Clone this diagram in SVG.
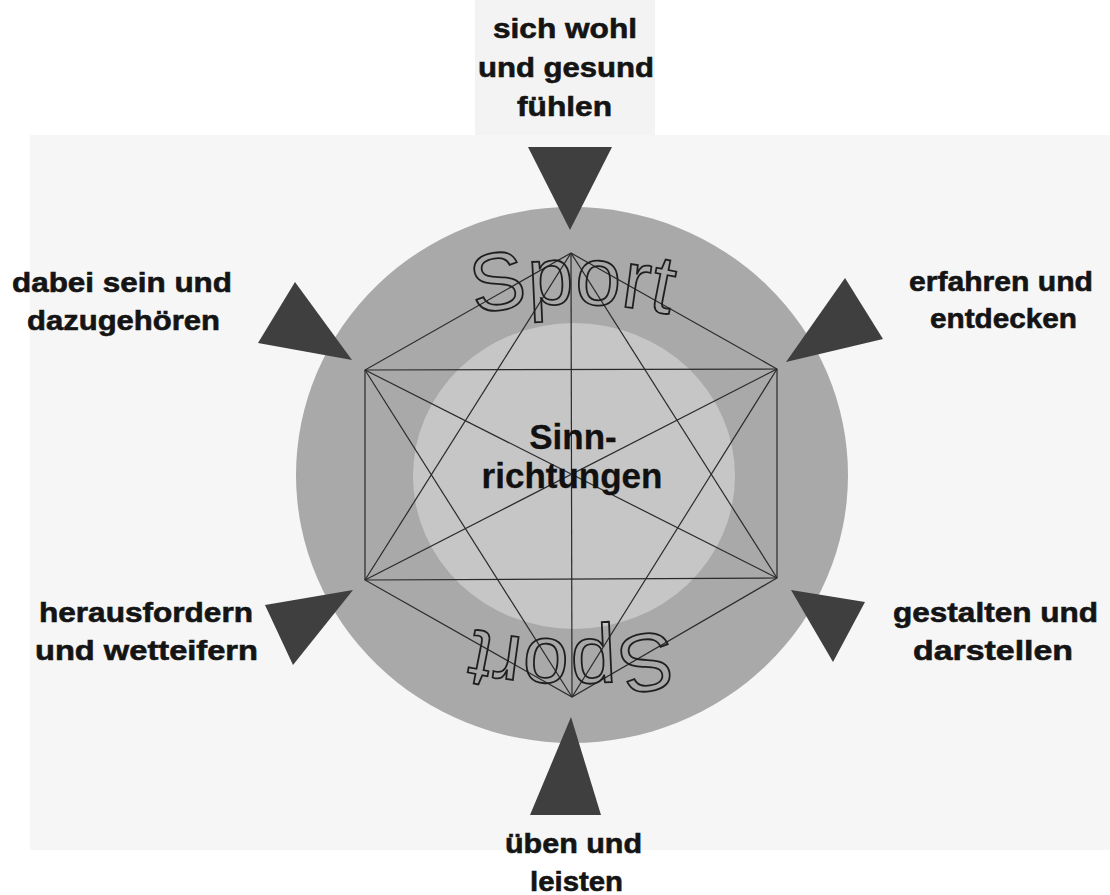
<svg xmlns="http://www.w3.org/2000/svg" xmlns:xlink="http://www.w3.org/1999/xlink" width="1110" height="895" viewBox="0 0 1110 895">
  <style>
    .lbl { font-family: "Liberation Sans", Arial, sans-serif; font-weight: bold; font-size: 28px; fill: #141414; stroke: #141414; stroke-width: 0.6; }
    .ctr { font-family: "Liberation Sans", Arial, sans-serif; font-weight: bold; font-size: 35px; fill: #111; stroke: #111; stroke-width: 0.3; text-anchor: middle; }
    .sport { font-family: "Liberation Sans", Arial, sans-serif; font-size: 82px; fill: none; stroke: #1e1e1e; stroke-width: 1.8; }
    .tri { fill: #3f3f3f; }
    .edge { stroke: #2a2a2a; stroke-width: 1.2; fill: none; }
  </style>
  <defs>
    <path id="arcTop" d="M 122 754 A 450 450 0 0 1 1022 754"/>
  </defs>
  <rect width="1110" height="895" fill="#ffffff"/>
  <rect x="30" y="135" width="1080" height="715" fill="#f6f6f6"/>
  <rect x="475" y="0" width="180" height="135" fill="#f3f3f3"/>

  <g id="sport-circle">
    <ellipse cx="572" cy="475" rx="276" ry="268" fill="#a9a9a9"/>
    <ellipse cx="574" cy="476" rx="161" ry="153" fill="#c6c6c6"/>
  </g>

  <g id="star">
    <polyline class="edge" points="571,253 365,370 365,580 572,697 777,578 777,369 571,253"/>
    <line class="edge" x1="365" y1="370" x2="777" y2="369"/>
    <line class="edge" x1="365" y1="580" x2="777" y2="578"/>
    <line class="edge" x1="571" y1="253" x2="572" y2="697"/>
    <line class="edge" x1="571" y1="253" x2="365" y2="580"/>
    <line class="edge" x1="571" y1="253" x2="777" y2="578"/>
    <line class="edge" x1="572" y1="697" x2="365" y2="370"/>
    <line class="edge" x1="572" y1="697" x2="777" y2="369"/>
    <line class="edge" x1="365" y1="370" x2="777" y2="578"/>
    <line class="edge" x1="777" y1="369" x2="365" y2="580"/>
  </g>

  <g id="sport-text">
    <text id="sportTop" class="sport"><textPath xlink:href="#arcTop" href="#arcTop" startOffset="50%" text-anchor="middle">Sport</textPath></text>
    <use xlink:href="#sportTop" href="#sportTop" transform="rotate(180 572 472)"/>
  </g>

  <g id="center-label">
    <text class="ctr" x="573" y="449">Sinn-</text>
    <text class="ctr" x="572" y="488">richtungen</text>
  </g>

  <g id="connectors">
    <polygon class="tri" points="528,147 612,147 570,230"/>
    <polygon class="tri" points="295,282 258,343 352,360"/>
    <polygon class="tri" points="845,278 883,339 786,362"/>
    <polygon class="tri" points="265,605 353,590 293,665"/>
    <polygon class="tri" points="791,590 865,602 833,662"/>
    <polygon class="tri" points="530,815 601,815 571,717"/>
  </g>

  <g id="node-wohl">
    <text class="lbl" x="493" y="38" textLength="144" lengthAdjust="spacingAndGlyphs">sich wohl</text>
    <text class="lbl" x="478" y="77" textLength="176" lengthAdjust="spacingAndGlyphs">und gesund</text>
    <text class="lbl" x="517" y="116" textLength="95" lengthAdjust="spacingAndGlyphs">fühlen</text>
  </g>
  <g id="node-dabei">
    <text class="lbl" x="12" y="292" textLength="220" lengthAdjust="spacingAndGlyphs">dabei sein und</text>
    <text class="lbl" x="27" y="330" textLength="193" lengthAdjust="spacingAndGlyphs">dazugehören</text>
  </g>
  <g id="node-erfahren">
    <text class="lbl" x="909" y="291" textLength="184" lengthAdjust="spacingAndGlyphs">erfahren und</text>
    <text class="lbl" x="930" y="328" textLength="147" lengthAdjust="spacingAndGlyphs">entdecken</text>
  </g>
  <g id="node-heraus">
    <text class="lbl" x="39" y="622" textLength="214" lengthAdjust="spacingAndGlyphs">herausfordern</text>
    <text class="lbl" x="35" y="660" textLength="223" lengthAdjust="spacingAndGlyphs">und wetteifern</text>
  </g>
  <g id="node-gestalten">
    <text class="lbl" x="893" y="622" textLength="205" lengthAdjust="spacingAndGlyphs">gestalten und</text>
    <text class="lbl" x="913" y="660" textLength="160" lengthAdjust="spacingAndGlyphs">darstellen</text>
  </g>
  <g id="node-ueben">
    <text class="lbl" x="505" y="853" textLength="137" lengthAdjust="spacingAndGlyphs">üben und</text>
    <text class="lbl" x="530" y="891" textLength="93" lengthAdjust="spacingAndGlyphs">leisten</text>
  </g>
</svg>
